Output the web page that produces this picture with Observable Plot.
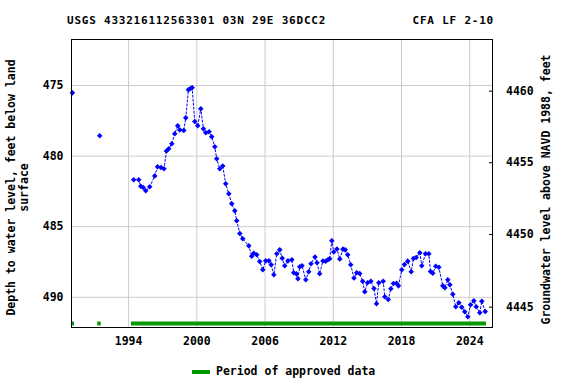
<!DOCTYPE html>
<html><head><meta charset="utf-8">
<script src="https://cdn.jsdelivr.net/npm/d3@7"></script>
<script src="https://cdn.jsdelivr.net/npm/@observablehq/plot@0.6"></script>
<style>
body{margin:0;background:#fff;}
#wrap{position:relative;width:576px;height:384px;font-family:"DejaVu Sans Mono",monospace;font-weight:bold;color:#000;overflow:hidden;}
.t{position:absolute;font-size:11px;letter-spacing:0.78px;white-space:pre;line-height:1;}
#chart{position:absolute;left:0;top:38px;}
#legend{position:absolute;left:192px;top:366px;height:12px;font-size:11.5px;line-height:1;display:flex;align-items:center;white-space:pre;}
#legend .sw{display:inline-block;width:18px;height:4px;background:#009900;margin-right:6px;}
</style></head>
<body><div id="wrap">
<div class="t" style="left:67px;top:14.7px">USGS 433216112563301 03N 29E 36DCC2</div>
<div class="t" style="right:82px;top:14.7px">CFA LF 2-10</div>
<div id="chart"></div>
<div id="legend"><span class="sw"></span><span>Period of approved data</span></div>
</div>
<script>
const years = [1989.06,1991.46,
1994.45,1994.89,1995.07,1995.28,1995.51,1995.86,1996.30,1996.55,1996.85,1997.11,
1997.33,1997.53,1997.80,1998.06,1998.32,1998.50,1998.85,1999.03,1999.26,1999.44,
1999.59,1999.82,2000.08,2000.35,2000.58,2000.79,2001.08,2001.31,2001.58,2001.75,
2002.02,2002.28,2002.54,2002.81,2003.07,2003.34,2003.51,2003.78,2004.04,2004.57,
2004.83,2005.01,2005.27,2005.53,2005.80,2006.06,2006.34,2006.54,2006.77,2007.03,
2007.29,2007.51,2007.73,2008.01,2008.35,2008.52,2008.76,2008.89,2009.05,2009.25,
2009.58,2009.84,2010.04,2010.39,2010.57,2010.80,2011.09,2011.33,2011.53,2011.68,
2011.87,2012.04,2012.32,2012.57,2012.85,2013.05,2013.27,2013.53,2013.82,2014.06,
2014.32,2014.58,2014.77,2015.01,2015.30,2015.58,2015.80,2016.00,2016.39,2016.53,
2016.83,2017.06,2017.29,2017.56,2017.73,2018.02,2018.26,2018.55,2018.85,2019.05,
2019.29,2019.61,2019.78,2020.11,2020.40,2020.55,2020.75,2021.01,2021.28,2021.63,
2021.81,2022.07,2022.25,2022.51,2022.77,2023.04,2023.30,2023.56,2023.83,2024.07,
2024.36,2024.57,2024.88,2025.06,2025.36];
const depths = [475.52,478.56,
481.68,481.68,482.13,482.22,482.46,482.17,481.40,480.76,480.81,480.90,
479.64,479.48,479.13,478.42,477.85,478.14,478.19,477.29,475.30,475.21,
475.16,477.55,477.85,476.65,478.07,478.35,478.28,478.63,479.34,480.19,
480.89,480.70,481.96,482.67,483.38,483.87,484.58,485.48,485.86,486.35,
487.09,486.88,486.99,487.46,488.05,487.42,487.42,487.69,488.41,486.91,
486.64,487.24,487.77,487.42,487.34,488.26,488.34,488.68,487.84,487.77,
488.76,488.19,487.62,487.15,487.55,488.33,487.43,487.44,487.34,487.27,
486.00,486.79,486.58,487.29,486.59,486.64,486.99,487.69,488.63,488.26,
488.31,488.86,489.61,488.97,488.86,489.38,490.46,488.97,488.86,489.96,
490.16,489.40,489.02,489.00,489.19,488.05,487.68,487.44,488.19,487.25,
487.18,486.85,487.77,486.92,486.92,488.17,488.29,487.80,487.87,489.19,
489.33,488.76,489.11,489.78,490.67,490.39,490.70,491.03,491.38,490.53,
490.25,490.67,491.10,490.28,491.01];
const approvedStart = [1988.98, 1991.29, 1994.25];
const approvedEnd = [1989.24, 1991.59, 2025.47];
const xTicks = [1994, 2000, 2006, 2012, 2018, 2024];
const yTicks = [475, 480, 485, 490];
const rightTickDepths = [475.40, 480.47, 485.55, 490.70];
const rightTickLabels = ["4460", "4455", "4450", "4445"];
const leftLabel = "Depth to water level, feet below land\nsurface";
const rightLabel = "Groundwater level above NAVD 1988, feet";

const data = years.map((x, i) => ({x, y: depths[i]}));
let seg = 0;
data.forEach((d, i) => { if (i > 0 && d.x - data[i-1].x > 1) seg++; d.seg = seg; });
const approved = approvedStart.map((s, i) => ({s, e: approvedEnd[i]}));

const xDomain = [1988.98, 2026.0];
const yDomain = [471.74, 492.14];

const chart = Plot.plot({
  width: 576, height: 313,
  marginLeft: 71, marginRight: 84, marginTop: 1, marginBottom: 24,
  style: {fontFamily: "'DejaVu Sans Mono', monospace", fontSize: "11.5px", fontWeight: "bold", color: "#000", background: "#fff", overflow: "visible"},
  x: {domain: xDomain, label: null},
  y: {domain: yDomain, reverse: true, label: null},
  marks: [
    Plot.gridX(xTicks, {stroke: "#cccccc", strokeOpacity: 1}),
    Plot.gridY(yTicks, {stroke: "#cccccc", strokeOpacity: 1}),
    Plot.axisX(xTicks, {tickSize: 0, tickPadding: 9, tickFormat: d => String(d), label: null}),
    Plot.axisY(yTicks, {anchor: "left", tickSize: 0, tickPadding: 8, label: null}),
    Plot.axisY(rightTickDepths, {anchor: "right", tickSize: -4, tickPadding: 17.5,
      tickFormat: d => rightTickLabels[rightTickDepths.indexOf(d)], label: null}),
    Plot.ruleY(approved, {x1: "s", x2: "e", y: () => yDomain[1], dy: -4, stroke: "#009900", strokeWidth: 4}),
    Plot.line(data, {x: "x", y: "y", z: "seg", stroke: "#0000ff", strokeWidth: 1, strokeDasharray: "2,2"}),
    Plot.dot(data, {x: "x", y: "y", symbol: "diamond2", r: 2.5, fill: "#0000ff", stroke: null}),
    Plot.text([leftLabel], {text: d => d, frameAnchor: "left", textAnchor: "middle", lineAnchor: "middle", rotate: -90, dx: -54, dy: 4, lineHeight: 1.07, fontSize: 11.5}),
    Plot.text([rightLabel], {text: d => d, frameAnchor: "right", textAnchor: "middle", lineAnchor: "middle", rotate: -90, dx: 54, dy: 6, fontSize: 11.5}),
    Plot.frame({stroke: "#000"})
  ]
});
document.getElementById("chart").appendChild(chart);
</script>
</body></html>
